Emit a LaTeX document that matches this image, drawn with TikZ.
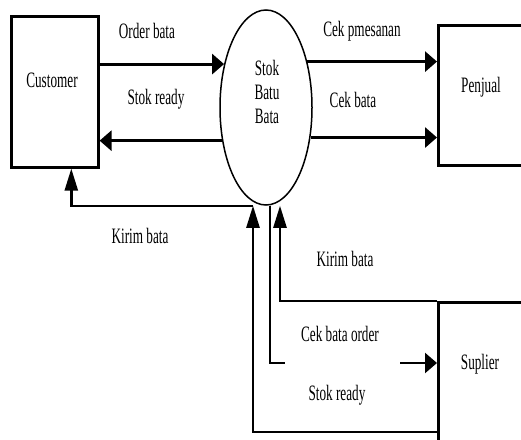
\documentclass[tikz,border=0pt]{standalone}
\usepackage{fontspec}
\setmainfont{Liberation Serif}[FakeStretch=0.6]
\usetikzlibrary{arrows.meta,shapes.geometric}
\begin{document}
\begin{tikzpicture}[x=1pt,y=-1pt,
  box/.style={draw, line width=2.6pt, rectangle, inner sep=0pt, anchor=north west},
  lbl/.style={anchor=base, inner sep=0pt, font=\fontsize{22}{24}\selectfont},
  hflow/.style={line width=3pt, -{Triangle[length=12pt,width=20pt]}},
  vflow/.style={line width=2.4pt, -{Triangle[length=22pt,width=13pt]}},
  plain/.style={line width=2.2pt}]
\clip (0,0) rectangle (521,439);
\fill[white] (0,0) rectangle (521,439);
% entities
\node[box, minimum width=87pt, minimum height=151pt] (cust) at (10,15) {};
\node[box, minimum width=150pt, minimum height=140pt] (penj) at (437,24) {};
\node[box, minimum width=150pt, minimum height=170pt] (sup) at (437,301) {};
\node[draw, ellipse, line width=1.5pt, minimum width=92pt, minimum height=195pt, inner sep=0pt] (stok) at (266,107.5) {};
% entity texts
\node[lbl] (tcust) at (52,87) {Customer};
\node[lbl] (tpenj) at (481,92) {Penjual};
\node[lbl] (tsup) at (480,369) {Suplier};
\node[lbl] (tstok1) at (267,75) {Stok};
\node[lbl] (tstok2) at (267,99) {Batu};
\node[lbl] (tstok3) at (267,123) {Bata};
% upper flows
\draw[hflow] (cust.east |- stok.134) -- (stok.134);
\draw[hflow] (stok.217) -- (cust.east |- stok.217);
\draw[hflow] (stok.48) -- (penj.west |- stok.48);
\draw[hflow] (stok.326) -- (penj.west |- stok.326);
% lower flows
\draw[vflow] ([xshift=-13pt]stok.south) -| ([xshift=16.5pt]cust.south);
\draw[vflow] ([yshift=-131pt]sup.north west) -| ([xshift=-13pt]stok.south);
\draw[vflow] (sup.north west) -| ([xshift=14pt]stok.south);
\coordinate (g1) at (285,363);
\coordinate (g2) at (400,363);
\draw[plain] ([xshift=4pt]stok.south) |- (g1);
\draw[hflow, line width=2.4pt] (g2) -- (sup.west |- g2);
% flow labels
\node[lbl] (l1) at (147,38) {Order bata};
\node[lbl] (l2) at (156,104) {Stok ready};
\node[lbl] (l3) at (362,36) {Cek pmesanan};
\node[lbl] (l4) at (353,107) {Cek bata};
\node[lbl] (l5) at (140,243) {Kirim bata};
\node[lbl] (l6) at (345,266) {Kirim bata};
\node[lbl] (l7) at (340,341) {Cek bata order};
\node[lbl] (l8) at (337,400) {Stok ready};
\end{tikzpicture}
\end{document}
